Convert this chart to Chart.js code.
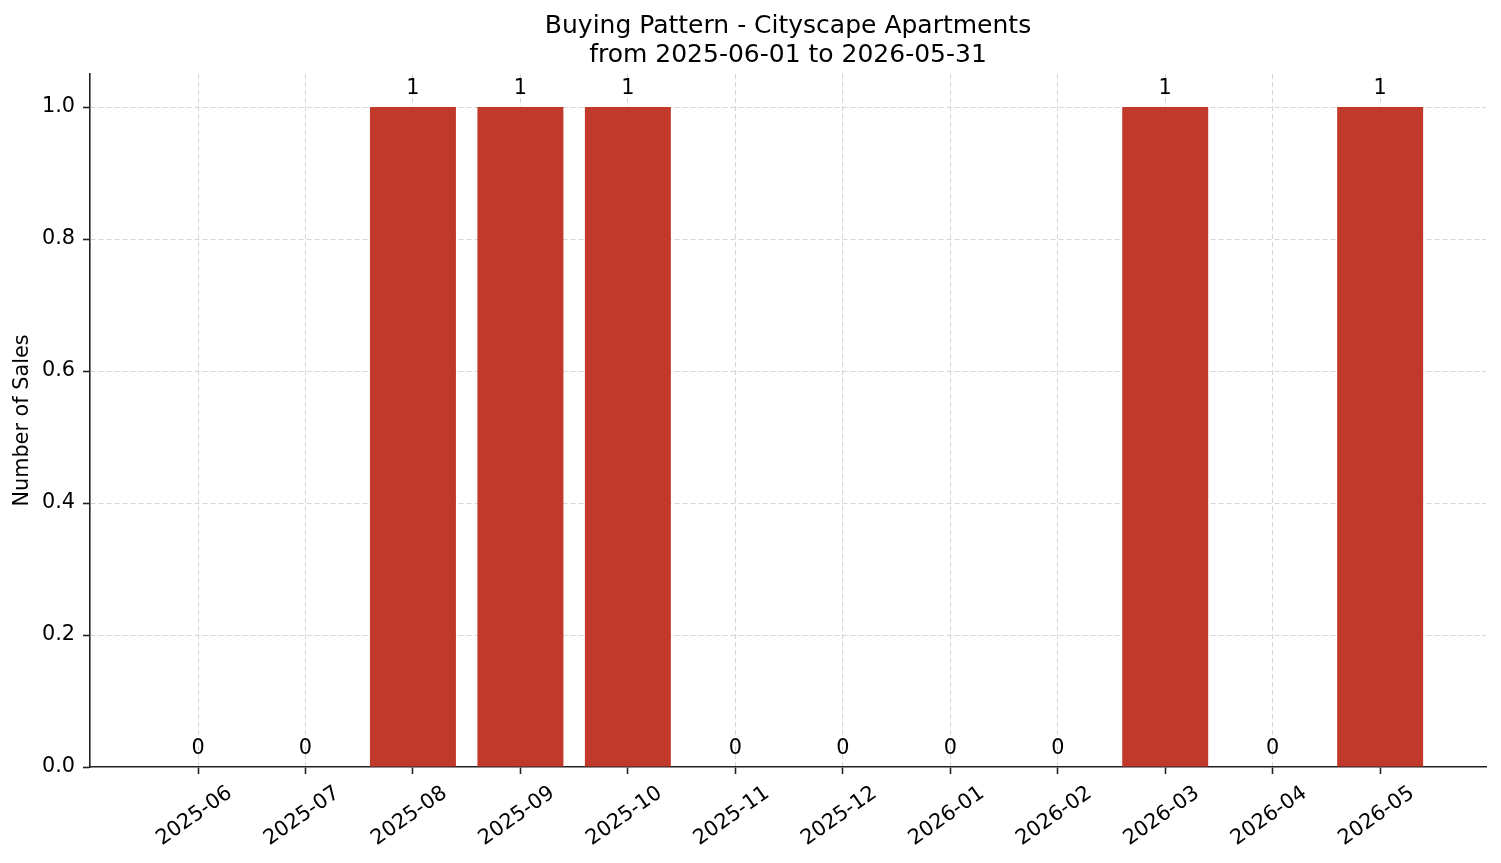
<!DOCTYPE html>
<html>
<head>
<meta charset="utf-8">
<title>Buying Pattern - Cityscape Apartments</title>
<script src="https://cdn.jsdelivr.net/npm/chart.js@4.4.1/dist/chart.umd.min.js"></script>
<style>
  html, body { margin: 0; padding: 0; background: #fff; }
  canvas { display: block; }
</style>
</head>
<body>
<canvas id="chart" width="1501" height="863"></canvas>
<script>
const months = ['2025-06', '2025-07', '2025-08', '2025-09', '2025-10', '2025-11',
                '2025-12', '2026-01', '2026-02', '2026-03', '2026-04', '2026-05'];
const sales = [0, 0, 1, 1, 1, 0, 0, 0, 0, 1, 0, 1];
const yTicks = [0, 0.2, 0.4, 0.6, 0.8, 1.0];
const titleLines = ['Buying Pattern - Cityscape Apartments', 'from 2025-06-01 to 2026-05-31'];
const yLabel = 'Number of Sales';

const BAR_COLOR = '#c0392b';
const GRID_COLOR = '#d6d6d6';
const AXIS_COLOR = '#222';
const FONT_SIZE = 20.8;

Chart.defaults.font.family = '"DejaVu Sans", sans-serif';
Chart.defaults.color = '#000';

// value labels above each bar (bar_label style)
const barLabels = {
    id: 'barLabels',
    afterDraw(chart) {
        const { ctx } = chart;
        const meta = chart.getDatasetMeta(0);
        ctx.save();
        ctx.font = FONT_SIZE + 'px "DejaVu Sans"';
        ctx.fillStyle = '#000';
        ctx.textAlign = 'center';
        ctx.textBaseline = 'alphabetic';
        meta.data.forEach((bar, i) => {
            ctx.fillText(String(sales[i]), bar.x, bar.y - 13);
        });
        ctx.restore();
    }
};

new Chart(document.getElementById('chart'), {
    type: 'bar',
    data: {
        datasets: [{
            data: sales.map((v, i) => ({ x: i, y: v })),
            backgroundColor: BAR_COLOR,
            borderWidth: 0,
            barPercentage: 0.8,
            categoryPercentage: 1.0
        }]
    },
    plugins: [barLabels],
    options: {
        responsive: false,
        animation: false,
        devicePixelRatio: 1,
        layout: { padding: { left: 0, right: 15, top: 0, bottom: 0 } },
        plugins: {
            legend: { display: false },
            tooltip: { enabled: false },
            title: {
                display: true,
                fullSize: false,
                text: titleLines,
                color: '#000',
                font: { size: 25, weight: 'normal', lineHeight: 1.15 },
                padding: { top: 12, bottom: 4.5 }
            }
        },
        scales: {
            x: {
                type: 'linear',
                min: -1.005,
                max: 11.985,
                offset: false,
                z: 1,
                afterBuildTicks: s => { s.ticks = months.map((_, i) => ({ value: i })); },
                afterFit: s => { s.height = 96; },
                ticks: {
                    autoSkip: false,
                    callback: v => months[v],
                    minRotation: 35,
                    maxRotation: 35,
                    labelOffset: 32,
                    padding: 7,
                    font: { size: FONT_SIZE },
                    color: '#000'
                },
                grid: { offset: false, color: GRID_COLOR, lineWidth: 1, tickLength: 7, tickWidth: 1.6, tickColor: AXIS_COLOR },
                border: { color: AXIS_COLOR, width: 1.6, dash: [5, 3] }
            },
            y: {
                min: 0,
                max: 1.05,
                z: 1,
                afterBuildTicks: s => { s.ticks = yTicks.map(v => ({ value: v })); },
                afterFit: s => { s.width = 90; },
                ticks: {
                    callback: v => v.toFixed(1),
                    padding: 8,
                    font: { size: FONT_SIZE },
                    color: '#000'
                },
                title: {
                    display: true,
                    text: yLabel,
                    color: '#000',
                    font: { size: FONT_SIZE },
                    padding: { top: 10, bottom: 0 }
                },
                grid: {
                    color: c => (c.tick && c.tick.value === 0 ? 'rgba(0,0,0,0)' : GRID_COLOR),
                    lineWidth: 1,
                    tickLength: 7,
                    tickWidth: 1.6,
                    tickColor: AXIS_COLOR
                },
                border: { color: AXIS_COLOR, width: 1.6, dash: [5, 3] }
            }
        }
    }
});
</script>
</body>
</html>
